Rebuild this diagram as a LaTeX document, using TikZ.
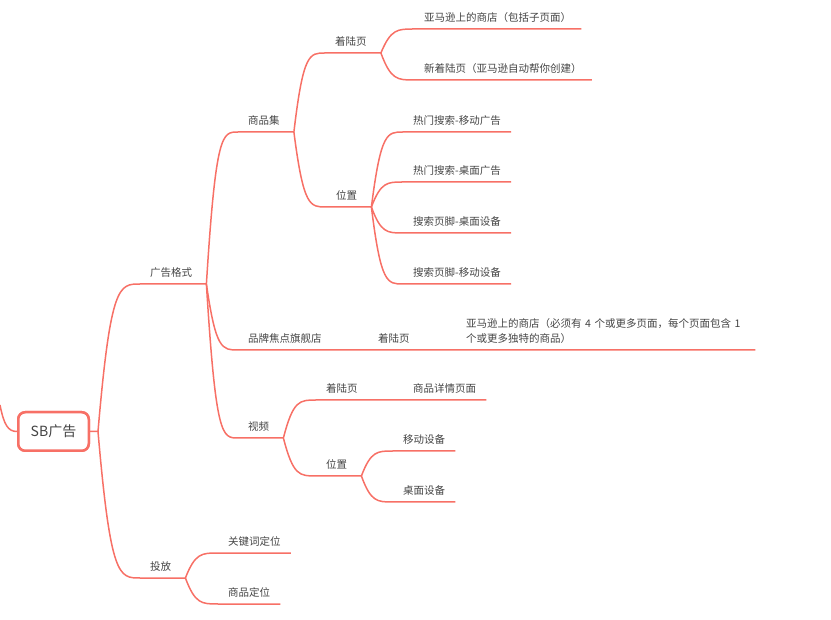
\documentclass[tikz,border=0pt]{standalone}
\usepackage{fontspec}
\newfontfamily\cjk{Noto Sans CJK SC}
\usetikzlibrary{calc}

\definecolor{branchred}{RGB}{247,112,102}
\definecolor{txtgray}{RGB}{68,68,68}

\tikzset{
  branch/.style={draw=branchred, line width=1.5pt,
    to path={let \p1=(\tikztostart), \p2=(\tikztotarget) in
      .. controls ({\x1+0.3*(\x2-\x1)},\y2) and ({\x1+0.5*(\x2-\x1)},\y2) .. (\tikztotarget)}},
  topic/.style={anchor=south west, text=txtgray, font=\cjk\fontsize{10.5}{15}\selectfont,
    inner xsep=10pt, inner ysep=7.5pt, text height=8pt, text depth=0pt},
  note/.style={anchor=south west, text=txtgray, font=\cjk\fontsize{10.5}{15}\selectfont,
    inner xsep=10pt, inner ysep=6pt, text width=279pt, align=left},
  rootbox/.style={draw=branchred, line width=2.5pt, fill=white, rounded corners=7pt,
    minimum width=70.5pt, minimum height=38.5pt, text=txtgray,
    font=\cjk\fontsize{14}{16}\selectfont}
}

\begin{document}
\begin{tikzpicture}[x=1pt,y=-1pt]
\useasboundingbox (0,0) rectangle (831,620);

% root
\node[rootbox] (root) at (53.5,431.5) {SB广告};
\coordinate (offmap) at (0,405);
\draw[branch] (offmap) .. controls (4,425) and (8,431.5) .. (root.west);

% level 1
\node[topic] (fmt) at (140,284) {广告格式};
\node[topic] (put) at (140,578) {投放};

% level 2
\node[topic] (set)   at (238,132) {商品集};
\node[topic] (brand) at (238,350) {品牌焦点旗舰店};
\node[topic] (video) at (238,438) {视频};
\node[topic] (kw)    at (218,553) {关键词定位};
\node[topic] (pp)    at (218,604) {商品定位};

% level 3
\node[topic] (slp)  at (325,53)  {着陆页};
\node[topic] (spos) at (326,207) {位置};
\node[topic] (blp)  at (368,350) {着陆页};
\node[topic] (vlp)  at (316,400) {着陆页};
\node[topic] (vpos) at (316,476) {位置};

% leaves
\node[topic] (s1) at (414,29)  {亚马逊上的商店（包括子页面）};
\node[topic] (s2) at (414,80)  {新着陆页（亚马逊自动帮你创建）};
\node[topic] (p1) at (403,132) {热门搜索-移动广告};
\node[topic] (p2) at (403,182) {热门搜索-桌面广告};
\node[topic] (p3) at (403,233) {搜索页脚-桌面设备};
\node[topic] (p4) at (403,284) {搜索页脚-移动设备};
\node[note]  (bs) at (456,350) {亚马逊上的商店（必须有 4 个或更多页面，每个页面包含 1\\个或更多独特的商品）};
\node[topic] (vd) at (403,400) {商品详情页面};
\node[topic] (m1) at (393,451) {移动设备};
\node[topic] (m2) at (393,502) {桌面设备};

% connectors
\draw[branch] (root.east) -- ++(8,0) coordinate (rootj) to (fmt.south west) -- (fmt.south east) -- ++(4,0) coordinate (fmtj);
\draw[branch] (rootj) to (put.south west) -- (put.south east) -- ++(4,0) coordinate (putj);

\draw[branch] (fmtj) to (set.south west) -- (set.south east) -- ++(4,0) coordinate (setj);
\draw[branch] (fmtj) to (brand.south west) -- (brand.south east) -- (blp.south west) -- (blp.south east) -- (bs.south west) -- (bs.south east);
\draw[branch] (fmtj) to (video.south west) -- (video.south east) -- ++(4,0) coordinate (videoj);
\draw[branch] (putj) to (kw.south west) -- (kw.south east);
\draw[branch] (putj) to (pp.south west) -- (pp.south east);

\draw[branch] (setj) to (slp.south west) -- (slp.south east) -- ++(4,0) coordinate (slpj);
\draw[branch] (setj) to (spos.south west) -- (spos.south east) -- ++(4,0) coordinate (sposj);
\draw[branch] (videoj) to (vlp.south west) -- (vlp.south east) -- (vd.south west) -- (vd.south east);
\draw[branch] (videoj) to (vpos.south west) -- (vpos.south east) -- ++(4,0) coordinate (vposj);

\draw[branch] (slpj) to (s1.south west) -- (s1.south east);
\draw[branch] (slpj) to (s2.south west) -- (s2.south east);
\draw[branch] (sposj) to (p1.south west) -- (p1.south east);
\draw[branch] (sposj) to (p2.south west) -- (p2.south east);
\draw[branch] (sposj) to (p3.south west) -- (p3.south east);
\draw[branch] (sposj) to (p4.south west) -- (p4.south east);
\draw[branch] (vposj) to (m1.south west) -- (m1.south east);
\draw[branch] (vposj) to (m2.south west) -- (m2.south east);

% root box on top of the line ends
\node[rootbox] at (root) {SB广告};
\end{tikzpicture}
\end{document}
